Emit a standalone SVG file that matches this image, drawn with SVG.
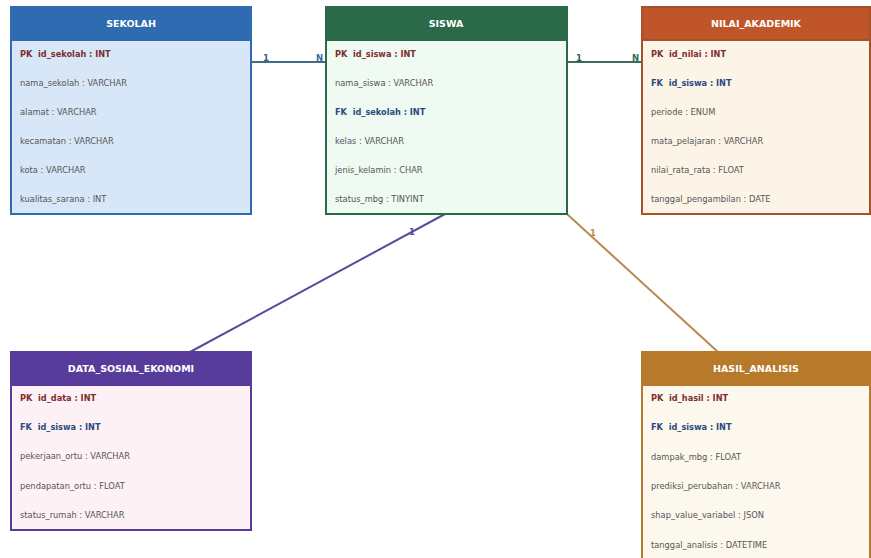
<svg xmlns="http://www.w3.org/2000/svg" width="871" height="558" viewBox="0 0 871 558">
  <style>
    text { white-space: pre; }
    .hdr { font-family: "DejaVu Sans", sans-serif; font-size: 9.5px; font-weight: bold; fill: #ffffff; text-anchor: middle; }
    .pk { font-family: "DejaVu Sans", sans-serif; font-size: 8.2px; font-weight: bold; fill: #7b2e2e; }
    .fk { font-family: "DejaVu Sans", sans-serif; font-size: 8.2px; font-weight: bold; fill: #2a4a7e; }
    .fld { font-family: "DejaVu Sans", sans-serif; font-size: 8.3px; fill: #555555; }
    .card { font-family: "DejaVu Sans", sans-serif; font-size: 8.5px; font-weight: bold; }
    .conn { fill: none; stroke-width: 2; }
  </style>
  <rect width="871" height="558" fill="#ffffff"/>

  <!-- relationship lines -->
  <g id="connectors">
    <line class="conn" x1="251" y1="62" x2="326" y2="62" stroke="#3f6b86"/>
    <text class="card" x="263" y="61" fill="#2f5f8a">1</text>
    <text class="card" x="316" y="61" fill="#2f6fa8">N</text>

    <line class="conn" x1="567" y1="62" x2="642" y2="62" stroke="#3b6a58"/>
    <text class="card" x="576" y="61" fill="#2f5f4a">1</text>
    <text class="card" x="632" y="61" fill="#2f6a50">N</text>

    <line class="conn" x1="445" y1="214" x2="190" y2="352" stroke="#5a4a9c"/>
    <text class="card" x="409" y="235" fill="#5a4a9c">1</text>

    <line class="conn" x1="567" y1="214" x2="718" y2="352" stroke="#b88a4e"/>
    <text class="card" x="590" y="236" fill="#b88a4e">1</text>
  </g>

  <!-- SEKOLAH -->
  <g id="sekolah">
    <rect x="11" y="7" width="240" height="207" fill="#d8e7f8" stroke="#2f6bb0" stroke-width="2"/>
    <rect x="11" y="7" width="240" height="33" fill="#2f6bb0" stroke="#2f6bb0" stroke-width="2"/>
    <text class="hdr" x="131" y="27">SEKOLAH</text>
    <text class="pk" x="20" y="57">PK  id_sekolah : INT</text>
    <text class="fld" x="20" y="86">nama_sekolah : VARCHAR</text>
    <text class="fld" x="20" y="115">alamat : VARCHAR</text>
    <text class="fld" x="20" y="144">kecamatan : VARCHAR</text>
    <text class="fld" x="20" y="173">kota : VARCHAR</text>
    <text class="fld" x="20" y="202">kualitas_sarana : INT</text>
  </g>

  <!-- SISWA -->
  <g id="siswa">
    <rect x="326" y="7" width="241" height="207" fill="#eefaf2" stroke="#2a6a48" stroke-width="2"/>
    <rect x="326" y="7" width="241" height="33" fill="#2a6a48" stroke="#2a6a48" stroke-width="2"/>
    <text class="hdr" x="446" y="27">SISWA</text>
    <text class="pk" x="335" y="57">PK  id_siswa : INT</text>
    <text class="fld" x="335" y="86">nama_siswa : VARCHAR</text>
    <text class="fk" x="335" y="115">FK  id_sekolah : INT</text>
    <text class="fld" x="335" y="144">kelas : VARCHAR</text>
    <text class="fld" x="335" y="173">jenis_kelamin : CHAR</text>
    <text class="fld" x="335" y="202">status_mbg : TINYINT</text>
  </g>

  <!-- NILAI_AKADEMIK -->
  <g id="nilai-akademik">
    <rect x="642" y="7" width="228" height="207" fill="#fdf4e8" stroke="#a4522c" stroke-width="2"/>
    <rect x="642" y="7" width="228" height="33" fill="#c0552a" stroke="#a4522c" stroke-width="2"/>
    <text class="hdr" x="756" y="27">NILAI_AKADEMIK</text>
    <text class="pk" x="651" y="57">PK  id_nilai : INT</text>
    <text class="fk" x="651" y="86">FK  id_siswa : INT</text>
    <text class="fld" x="651" y="115">periode : ENUM</text>
    <text class="fld" x="651" y="144">mata_pelajaran : VARCHAR</text>
    <text class="fld" x="651" y="173">nilai_rata_rata : FLOAT</text>
    <text class="fld" x="651" y="202">tanggal_pengambilan : DATE</text>
  </g>

  <!-- DATA_SOSIAL_EKONOMI -->
  <g id="data-sosial-ekonomi">
    <rect x="11" y="352" width="240" height="178" fill="#fdf1f6" stroke="#573c9c" stroke-width="2"/>
    <rect x="11" y="352" width="240" height="33" fill="#573c9c" stroke="#573c9c" stroke-width="2"/>
    <text class="hdr" x="131" y="372">DATA_SOSIAL_EKONOMI</text>
    <text class="pk" x="20" y="401">PK  id_data : INT</text>
    <text class="fk" x="20" y="430">FK  id_siswa : INT</text>
    <text class="fld" x="20" y="459">pekerjaan_ortu : VARCHAR</text>
    <text class="fld" x="20" y="489">pendapatan_ortu : FLOAT</text>
    <text class="fld" x="20" y="518">status_rumah : VARCHAR</text>
  </g>

  <!-- HASIL_ANALISIS -->
  <g id="hasil-analisis">
    <rect x="642" y="352" width="228" height="212" fill="#fdf8ee" stroke="#b7792a" stroke-width="2"/>
    <rect x="642" y="352" width="228" height="33" fill="#b7792a" stroke="#b7792a" stroke-width="2"/>
    <text class="hdr" x="756" y="372">HASIL_ANALISIS</text>
    <text class="pk" x="651" y="401">PK  id_hasil : INT</text>
    <text class="fk" x="651" y="430">FK  id_siswa : INT</text>
    <text class="fld" x="651" y="460">dampak_mbg : FLOAT</text>
    <text class="fld" x="651" y="489">prediksi_perubahan : VARCHAR</text>
    <text class="fld" x="651" y="518">shap_value_variabel : JSON</text>
    <text class="fld" x="651" y="548">tanggal_analisis : DATETIME</text>
  </g>
</svg>
